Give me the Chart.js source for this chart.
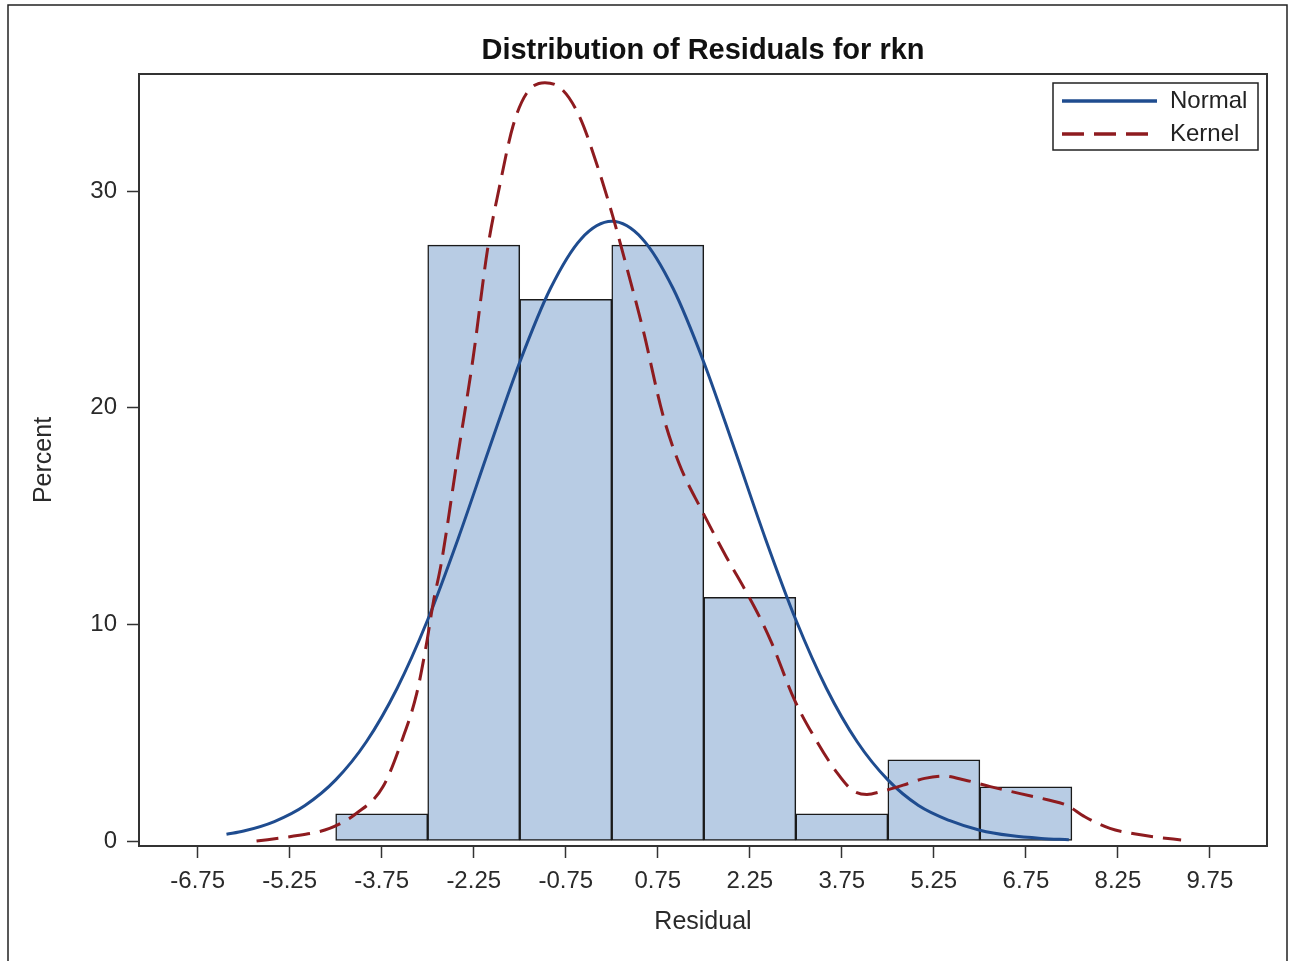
<!DOCTYPE html>
<html>
<head>
<meta charset="utf-8">
<title>Distribution of Residuals for rkn</title>
<script src="https://cdn.jsdelivr.net/npm/chart.js@4.4.1/dist/chart.umd.min.js"></script>
<style>
  html, body { margin: 0; padding: 0; background: #fff; }
  canvas { display: block; }
</style>
</head>
<body>
<canvas id="grafico" width="1289" height="961"></canvas>
<script>
// histogram bins (midpoints) and percent
const binMid = [-3.75, -2.25, -0.75, 0.75, 2.25, 3.75, 5.25, 6.75]
const binPercent = [1.25, 27.5, 25, 27.5, 11.25, 1.25, 3.75, 2.5]

// normal curve
const normalX = [-6.28, -6, -5.5, -5, -4.5, -4, -3.5, -3, -2.5, -2, -1.5, -1, -0.5, 0, 0.5, 1, 1.5, 2, 2.5, 3, 3.5, 4, 4.5, 5, 5.5, 6, 6.5, 7, 7.45]
const normalY = [0.31, 0.46, 0.9, 1.64, 2.82, 4.58, 7.04, 10.21, 13.99, 18.09, 22.1, 25.5, 27.79, 28.6, 27.79, 25.5, 22.1, 18.09, 13.99, 10.21, 7.04, 4.58, 2.82, 1.64, 0.95, 0.5, 0.25, 0.12, 0.06]

// kernel density curve
const kernelX = [-5.79, -5.25, -4.6, -4.16, -3.73, -3.4, -3.18, -3.02, -2.91, -2.78, -2.52, -2.26, -2.02, -1.83, -1.61, -1.39, -1.09, -0.8, -0.52, -0.24, 0.01, 0.27, 0.51, 0.83, 1.1, 1.46, 1.87, 2.23, 2.46, 2.61, 2.98, 3.33, 3.68, 3.92, 4.16, 4.39, 4.75, 5.1, 5.4, 5.75, 6.17, 6.64, 7.12, 7.41, 7.71, 8.12, 8.54, 8.89, 9.28]
const kernelY = [0, 0.2, 0.58, 1.28, 2.5, 4.8, 6.8, 9.1, 11, 12.8, 17.6, 22.3, 27.4, 30.2, 33, 34.5, 35, 34.66, 33.4, 31.2, 28.9, 26.2, 23.6, 19.7, 17.4, 15.3, 13.1, 11.3, 10.05, 9.12, 6.5, 4.66, 3.12, 2.35, 2.15, 2.28, 2.58, 2.89, 3, 2.82, 2.51, 2.2, 1.89, 1.66, 1.12, 0.58, 0.32, 0.17, 0.05]

// axis ticks
const xTicks = [-6.75, -5.25, -3.75, -2.25, -0.75, 0.75, 2.25, 3.75, 5.25, 6.75, 8.25, 9.75]
const xTickLabels = ['-6.75', '-5.25', '-3.75', '-2.25', '-0.75', '0.75', '2.25', '3.75', '5.25', '6.75', '8.25', '9.75']
const yTicks = [0, 10, 20, 30]
const yTickLabels = ['0', '10', '20', '30']

const azul = '#1f4c8f'
const rojo = '#8e1b1f'
const fuente = '"Liberation Sans", Arial, sans-serif'

Chart.defaults.font.family = fuente

const fondo = {
  id: 'fondo',
  beforeDraw(chart) {
    const c = chart.ctx
    c.save()
    c.fillStyle = '#fff'
    c.fillRect(0, 0, chart.width, chart.height)
    c.restore()
  },
  afterDraw(chart) {
    const c = chart.ctx
    const a = chart.chartArea
    c.save()
    // marco del grafico
    c.strokeStyle = '#333'
    c.lineWidth = 2
    c.strokeRect(a.left, a.top, a.right - a.left, a.bottom - a.top)
    // borde exterior
    c.strokeStyle = '#222'
    c.lineWidth = 1.5
    c.beginPath()
    c.moveTo(8, chart.height + 2)
    c.lineTo(8, 5)
    c.lineTo(1287, 5)
    c.lineTo(1287, chart.height + 2)
    c.stroke()

    // leyenda
    const lx = a.right - 214, ly = a.top + 9
    c.fillStyle = '#fff'
    c.fillRect(lx, ly, 205, 67)
    c.strokeStyle = '#222'
    c.lineWidth = 1.5
    c.strokeRect(lx, ly, 205, 67)
    const filas = [chart.data.datasets[1], chart.data.datasets[2]]
    filas.forEach((ds, i) => {
      const y = ly + 18 + i * 33
      c.strokeStyle = ds.borderColor
      c.lineWidth = 3.5
      c.setLineDash(ds.borderDash || [])
      c.beginPath()
      c.moveTo(lx + 9, y)
      c.lineTo(lx + 104, y)
      c.stroke()
      c.setLineDash([])
      c.fillStyle = '#222'
      c.font = '24px ' + fuente
      c.textBaseline = 'middle'
      c.textAlign = 'left'
      c.fillText(ds.label, lx + 117, y)
    })
    c.restore()
  }
}

const ctx = document.getElementById('grafico')

const grafica = new Chart(ctx, {
  type: 'bar',
  data: {
    datasets: [{
      type: 'bar',
      label: 'Percent',
      data: binMid.map((m, i) => ({ x: m, y: binPercent[i] })),
      backgroundColor: '#b8cce4',
      borderColor: '#1a1a1a',
      borderWidth: 1.5,
      borderSkipped: false,
      barPercentage: 1,
      categoryPercentage: 1,
      order: 3
    }, {
      type: 'line',
      label: 'Normal',
      data: normalX.map((x, i) => ({ x: x, y: normalY[i] })),
      borderColor: azul,
      borderWidth: 3,
      pointRadius: 0,
      fill: false,
      cubicInterpolationMode: 'monotone',
      order: 2
    }, {
      type: 'line',
      label: 'Kernel',
      data: kernelX.map((x, i) => ({ x: x, y: kernelY[i] })),
      borderColor: rojo,
      borderWidth: 3,
      borderDash: [22, 10],
      pointRadius: 0,
      fill: false,
      cubicInterpolationMode: 'monotone',
      order: 1
    }]
  },
  options: {
    responsive: false,
    animation: false,
    layout: { padding: { left: 0, right: 22, top: 0, bottom: 0 } },
    plugins: {
      legend: { display: false },
      tooltip: { enabled: false },
      title: {
        display: true,
        text: 'Distribution of Residuals for rkn',
        fullSize: false,
        color: '#111',
        font: { size: 29, weight: 'bold' },
        padding: { top: 33.6, bottom: 5.6 }
      }
    },
    scales: {
      x: {
        type: 'linear',
        min: -7.706,
        max: 10.68,
        offset: false,
        afterBuildTicks: s => { s.ticks = xTicks.map(v => ({ value: v })) },
        afterFit: s => { s.height = 115 },
        ticks: {
          autoSkip: false,
          maxRotation: 0,
          padding: 9,
          color: '#2a2a2a',
          font: { size: 24 },
          callback: (v, i) => xTickLabels[i]
        },
        grid: { offset: false, drawOnChartArea: false, tickLength: 12, tickColor: '#333', tickWidth: 1.5 },
        border: { display: false },
        title: { display: true, text: 'Residual', color: '#2a2a2a', font: { size: 25 }, padding: { top: 0, bottom: 24 } }
      },
      y: {
        type: 'linear',
        min: -0.23,
        max: 35.4,
        afterBuildTicks: s => { s.ticks = yTicks.map(v => ({ value: v })) },
        afterFit: s => { s.width = 139 },
        ticks: {
          padding: 10,
          color: '#2a2a2a',
          font: { size: 24 },
          callback: (v, i) => yTickLabels[i]
        },
        grid: { drawOnChartArea: false, tickLength: 12, tickColor: '#333', tickWidth: 1.5 },
        border: { display: false },
        title: { display: true, text: 'Percent', color: '#2a2a2a', font: { size: 25 }, padding: { top: 29, bottom: 0 } }
      }
    }
  },
  plugins: [fondo]
})
</script>
</body>
</html>
